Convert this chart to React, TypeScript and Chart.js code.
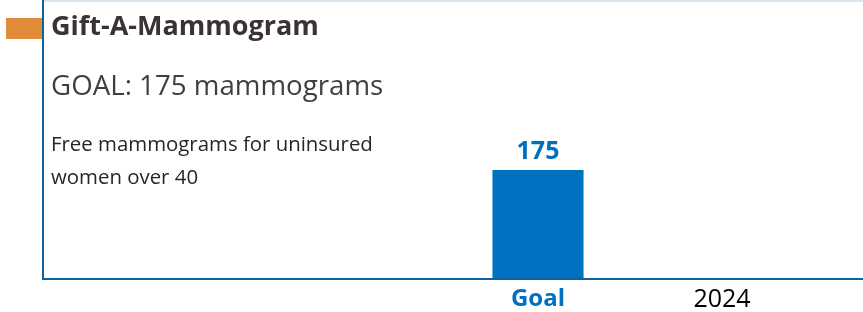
import React, { useEffect, useRef } from "react";
import { Chart, registerables } from "chart.js";

Chart.register(...registerables);

const categories = ["Goal", "2024"];
const values: (number | null)[] = [175, null];
const titleText = "Gift-A-Mammogram";
const subtitleText = "GOAL: 175 mammograms";
const descriptionLines = ["Free mammograms for uninsured", "women over 40"];

const BLUE = "#0070C0";
const AXIS = "#0E619B";
const FONT = "'Open Sans', 'Noto Sans', sans-serif";

export default function App() {
  const ref = useRef<HTMLCanvasElement>(null);

  useEffect(() => {
    document.body.style.margin = "0";
    if (!ref.current) return;

    const framePlugin = {
      id: "frame",
      beforeDraw(chart: any) {
        const ctx = chart.ctx;
        ctx.save();
        ctx.fillStyle = "#fff";
        ctx.fillRect(0, 0, chart.width, chart.height);
        // top light border
        ctx.fillStyle = "#DAE7F2";
        ctx.fillRect(44, 0, chart.width - 44, 2);
        // left border
        ctx.fillStyle = AXIS;
        ctx.fillRect(42, 0, 2, chart.chartArea.bottom + 2);
        // orange marker
        ctx.fillStyle = "#E08B38";
        ctx.fillRect(6, 18, 36, 21);
        // texts
        ctx.textAlign = "left";
        ctx.textBaseline = "alphabetic";
        ctx.fillStyle = "#3A3233";
        ctx.font = `bold 27px ${FONT}`;
        ctx.fillText(titleText, 51, 35);
        ctx.fillStyle = "#3F3F3F";
        ctx.font = `27.7px ${FONT}`;
        ctx.fillText(subtitleText, 51, 95);
        ctx.fillStyle = "#262626";
        ctx.font = `20.4px ${FONT}`;
        descriptionLines.forEach((line, i) => ctx.fillText(line, 51, 151 + i * 33));
        ctx.restore();
      },
      afterDatasetsDraw(chart: any) {
        const ctx = chart.ctx;
        ctx.save();
        ctx.fillStyle = AXIS;
        ctx.fillRect(42, chart.chartArea.bottom, chart.width - 42, 2);
        const meta = chart.getDatasetMeta(0);
        ctx.fillStyle = BLUE;
        ctx.font = `bold 25px ${FONT}`;
        ctx.textAlign = "center";
        ctx.textBaseline = "alphabetic";
        meta.data.forEach((bar: any, i: number) => {
          const v = values[i];
          if (v == null) return;
          ctx.fillText(String(v), bar.x, bar.y - 11);
        });
        ctx.restore();
      },
    };

    const chart = new Chart(ref.current, {
      type: "bar",
      data: {
        labels: categories,
        datasets: [
          {
            data: values,
            backgroundColor: BLUE,
            barPercentage: 0.495,
            categoryPercentage: 1,
          },
        ],
      },
      options: {
        responsive: false,
        animation: false,
        layout: { padding: { left: 446, right: 49, top: 0, bottom: 0 } },
        plugins: { legend: { display: false }, tooltip: { enabled: false } },
        scales: {
          x: {
            offset: true,
            grid: { display: false, drawTicks: false },
            border: { display: false },
            ticks: {
              padding: 7,
              color: (c: any) => (c.index === 0 ? BLUE : "#000"),
              font: (c: any) => ({
                family: FONT,
                size: c.index === 0 ? 24 : 25,
                weight: c.index === 0 ? "bold" : "normal",
              }),
            },
            afterFit: (s: any) => {
              s.height = 34;
            },
          },
          y: { display: false, min: 0, max: 450 },
        },
      },
      plugins: [framePlugin],
    } as any);

    return () => chart.destroy();
  }, []);

  return (
    <div style={{ position: "relative", width: 863, height: 312 }}>
      <canvas ref={ref} width={863} height={312} />
    </div>
  );
}
